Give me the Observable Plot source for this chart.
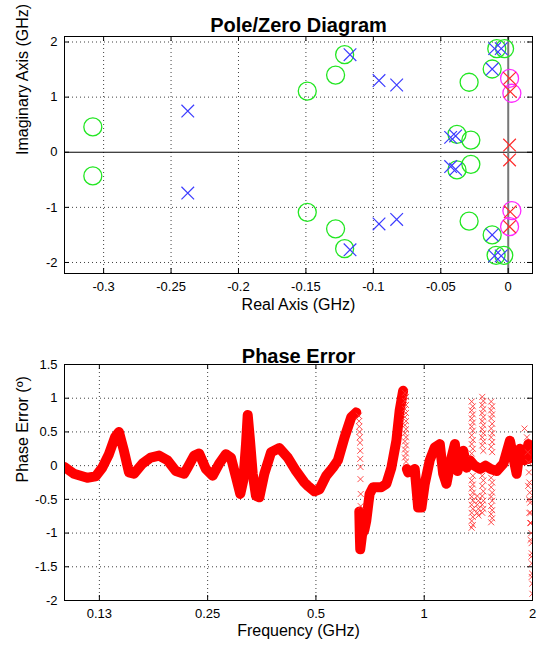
<!DOCTYPE html>
<html>
<head>
<meta charset="utf-8">
<script src="https://cdn.jsdelivr.net/npm/d3@7"></script>
<script src="https://cdn.jsdelivr.net/npm/@observablehq/plot@0.6"></script>
<style>
  html, body { margin: 0; padding: 0; background: white; }
  #root svg { display: block; }
</style>
</head>
<body>
<div id="root"></div>
<script>
// ---------- Pole/Zero diagram data (GHz) ----------
const zeroRe = [-0.308, -0.308, -0.149, -0.149, -0.128, -0.128, -0.1213, -0.1213, -0.029, -0.029,
                -0.0119, -0.0119, -0.0085, -0.0090, -0.0027, -0.0033, -0.038, -0.038, -0.0277, -0.0277];
const zeroIm = [0.46, -0.43, 1.11, -1.09, 1.40, -1.39, 1.77, -1.75, 1.27, -1.25,
                1.51, -1.50, 1.88, -1.87, 1.88, -1.87, 0.325, -0.32, 0.22, -0.22];
const poleRe = [-0.2376, -0.2376, -0.1173, -0.1173, -0.0958, -0.0958, -0.0827, -0.0827, -0.0427, -0.0427,
                -0.039, -0.039, -0.0119, -0.0119, -0.0101, -0.0101, -0.0052, -0.0052];
const poleIm = [0.747, -0.74, 1.77, -1.77, 1.30, -1.30, 1.22, -1.22, 0.27, -0.26,
                0.295, -0.31, 1.51, -1.50, 1.88, -1.88, 1.88, -1.88];
const rhpPoleRe = [0.001, 0.001, 0.001, 0.0015, 0.0015, 0.001];
const rhpPoleIm = [0.13, -0.14, 1.34, 1.10, -1.08, -1.35];
const rhpZeroRe = [0.001, 0.0027, 0.0027, 0.001];
const rhpZeroIm = [1.34, 1.07, -1.06, -1.35];
const reTicks = [-0.3, -0.25, -0.2, -0.15, -0.1, -0.05, 0];
const imTicks = [-2, -1, 0, 1, 2];

// ---------- Phase error data (frequency GHz, error deg) ----------
const peFreq = [0.100, 0.1062, 0.1157, 0.1220, 0.1274, 0.1329, 0.1381, 0.1417, 0.1463, 0.1511,
  0.1560, 0.1647, 0.1737, 0.1832, 0.1933, 0.2039, 0.2150, 0.2198, 0.2293, 0.2368,
  0.2472, 0.2581, 0.2692, 0.2810, 0.2902, 0.2997, 0.3081, 0.3141, 0.3196, 0.3231,
  0.3279, 0.3336, 0.3407, 0.3480, 0.3594, 0.3752, 0.3957, 0.4176, 0.4404, 0.4645,
  0.4748, 0.4953, 0.5115, 0.5340, 0.5574, 0.5756, 0.6005, 0.6269, 0.6474, 0.650,
  0.660, 0.662, 0.664, 0.672, 0.682, 0.690, 0.700, 0.7051, 0.7206, 0.7601,
  0.7849, 0.8104, 0.8368, 0.8547, 0.8736, 0.880,
  0.895, 0.902, 0.925, 0.9412, 0.9619, 0.9825, 1.0036, 1.036, 1.070, 1.105,
  1.129, 1.153, 1.191, 1.217, 1.238, 1.256, 1.284, 1.312, 1.340, 1.38,
  1.43, 1.48, 1.53, 1.59, 1.660, 1.731, 1.769, 1.807, 1.846, 1.906,
  1.948, 1.955];
const peErr = [-0.02, -0.12, -0.18, -0.16, -0.03, 0.17, 0.42, 0.50, 0.22, -0.10,
  -0.12, 0.03, 0.12, 0.15, 0.08, -0.08, -0.12, -0.03, 0.15, 0.18,
  -0.05, -0.15, 0.03, 0.17, 0.12, -0.17, -0.42, -0.22, 0.32, 0.75,
  0.37, -0.12, -0.45, -0.47, -0.12, 0.20, 0.26, 0.12, -0.08, -0.25,
  -0.30, -0.38, -0.35, -0.15, -0.03, 0.08, 0.42, 0.72, 0.79, null,
  -0.68, -1.0, -1.24, -1.02, -0.95, -0.82, -0.55, -0.42, -0.32, -0.32,
  -0.27, -0.03, 0.37, 0.82, 1.11, null,
  -0.05, -0.10, -0.08, -0.05, -0.62, -0.62, -0.27, 0.08, 0.27, 0.32,
  -0.12, -0.27, 0.12, 0.32, -0.08, 0.08, 0.22, -0.03, 0.08, 0.0,
  -0.05, 0.0, -0.05, -0.08, 0.03, 0.37, 0.12, -0.12, 0.25, 0.08,
  0.32, 0.10];

// scattered (noisy) samples, read as [frequency, error]
const scatterA = [[0.658, 0.74], [0.659, 0.66], [0.660, 0.58], [0.661, 0.50], [0.662, 0.42], [0.663, 0.34],
  [0.664, 0.22], [0.664, 0.10], [0.665, -0.02], [0.665, -0.20], [0.666, -0.42], [0.666, -0.60]];
const scatterB = [[0.884, 1.08], [0.890, 1.02], [0.884, 0.96], [0.890, 0.90], [0.884, 0.84], [0.890, 0.78],
  [0.884, 0.72], [0.890, 0.66], [0.884, 0.60], [0.890, 0.54], [0.884, 0.48], [0.890, 0.42],
  [0.884, 0.36], [0.890, 0.30], [0.884, 0.24], [0.890, 0.18], [0.884, 0.12], [0.890, 0.06]];
const scatterC = [
  [1.355, 0.95], [1.365, 0.88], [1.355, 0.82], [1.365, 0.76], [1.355, 0.70], [1.365, 0.64], [1.355, 0.58],
  [1.365, 0.52], [1.355, 0.45], [1.365, 0.38], [1.355, 0.32], [1.365, 0.25], [1.355, 0.18], [1.365, -0.15],
  [1.355, -0.22], [1.365, -0.28], [1.355, -0.34], [1.365, -0.40], [1.355, -0.46], [1.365, -0.52],
  [1.355, -0.58], [1.365, -0.64], [1.355, -0.70], [1.365, -0.76], [1.355, -0.82], [1.365, -0.88], [1.355, -0.92],
  [1.405, -0.45], [1.415, -0.52], [1.405, -0.58], [1.415, -0.64], [1.405, -0.70], [1.415, -0.74],
  [1.450, 1.02], [1.460, 0.96], [1.450, 0.90], [1.460, 0.84], [1.450, 0.78], [1.460, 0.72], [1.450, 0.66],
  [1.460, 0.60], [1.450, 0.54], [1.460, 0.48], [1.450, 0.42], [1.460, 0.36], [1.450, 0.30], [1.460, 0.22],
  [1.450, -0.15], [1.460, -0.22], [1.450, -0.30], [1.460, -0.38], [1.450, -0.45], [1.460, -0.52],
  [1.450, -0.58], [1.460, -0.64], [1.450, -0.70],
  [1.535, 0.95], [1.545, 0.88], [1.535, 0.82], [1.545, 0.76], [1.535, 0.70], [1.545, 0.62], [1.535, 0.55],
  [1.545, 0.48], [1.535, 0.42], [1.545, 0.35], [1.535, 0.28], [1.545, 0.20], [1.535, -0.18], [1.545, -0.25],
  [1.535, -0.32], [1.545, -0.40], [1.535, -0.46], [1.545, -0.52], [1.535, -0.60], [1.545, -0.66],
  [1.535, -0.72], [1.545, -0.78], [1.535, -0.84]];
const scatterD = [[1.90, 0.55], [1.93, 0.42], [1.94, 0.20], [1.95, 0.05], [1.955, -0.10], [1.96, -0.25],
  [1.965, -0.40], [1.97, -0.55], [1.975, -0.70], [1.98, -0.85], [1.985, -1.0], [1.988, -1.15],
  [1.99, -1.3], [1.992, -1.45], [1.994, -1.6], [1.996, -1.75], [1.998, -1.9], [1.945, -0.30],
  [1.955, -0.50], [1.96, -0.70], [1.97, -0.85], [1.975, -1.1], [1.985, -1.35], [1.99, -1.65]];

const freqTicks = [0.125, 0.25, 0.5, 1, 2];
const freqTickLabels = ["0.13", "0.25", "0.5", "1", "2"];
const errTicks = [-2, -1.5, -1, -0.5, 0, 0.5, 1, 1.5];

// ---------- layout ----------
const W = 542, ML = 64, MR = 10;
const FW = W - ML - MR;
const H1 = 322, MT1 = 36, MB1 = 49, FH1 = H1 - MT1 - MB1;
const H2 = 323, MT2 = 42, MB2 = 45, FH2 = H2 - MT2 - MB2;
const font = "'Liberation Sans', Arial, Helvetica, sans-serif";
const gridStyle = {stroke: "#000", strokeOpacity: 0.75, strokeDasharray: "1,3"};
const idx = a => a.map((_, i) => i);
const scatter = [...scatterA, ...scatterB, ...scatterC, ...scatterD];

function boxTicks(xt, yt, fh) {
  return [
    Plot.tickX(xt, {x: d => d, insetTop: fh - 5, stroke: "black"}),
    Plot.tickX(xt, {x: d => d, insetBottom: fh - 5, stroke: "black"}),
    Plot.tickY(yt, {y: d => d, insetRight: FW - 5, stroke: "black"}),
    Plot.tickY(yt, {y: d => d, insetLeft: FW - 5, stroke: "black"})
  ];
}

const chart1 = Plot.plot({
  width: W, height: H1, marginTop: MT1, marginBottom: MB1, marginLeft: ML, marginRight: MR,
  style: {fontFamily: font, fontSize: "13px", background: "white", color: "black"},
  x: {domain: [-0.329, 0.018], ticks: reTicks, tickFormat: d => String(d), tickSize: 0, tickPadding: 8, label: null},
  y: {domain: [-2.2, 2.1], ticks: imTicks, tickFormat: d => String(d), tickSize: 0, tickPadding: 7, label: null},
  marks: [
    Plot.ruleX(reTicks.filter(d => d !== 0), {x: d => d, ...gridStyle}),
    Plot.ruleY(imTicks.filter(d => d !== 0), {y: d => d, ...gridStyle}),
    Plot.ruleY([0], {y: d => d, stroke: "black", strokeWidth: 1}),
    Plot.ruleX([0], {x: d => d, stroke: "#777", strokeWidth: 2}),
    ...boxTicks(reTicks, imTicks, FH1),
    Plot.frame({stroke: "black"}),
    Plot.dot(idx(zeroRe), {x: i => zeroRe[i], y: i => zeroIm[i], symbol: "circle", r: 9, stroke: "#22e622", strokeWidth: 1.3, fill: "none"}),
    Plot.dot(idx(poleRe), {x: i => poleRe[i], y: i => poleIm[i], symbol: "times", r: 5.8, stroke: "#3c3cff", strokeWidth: 1.2}),
    Plot.dot(idx(rhpZeroRe), {x: i => rhpZeroRe[i], y: i => rhpZeroIm[i], symbol: "circle", r: 9, stroke: "#ff2aff", strokeWidth: 1.3, fill: "none"}),
    Plot.dot(idx(rhpPoleRe), {x: i => rhpPoleRe[i], y: i => rhpPoleIm[i], symbol: "times", r: 5.8, stroke: "#ff2a2a", strokeWidth: 1.2}),
    Plot.text(["Pole/Zero Diagram"], {frameAnchor: "top", dy: -19, fontSize: 20, fontWeight: "bold"}),
    Plot.text(["Real Axis (GHz)"], {frameAnchor: "bottom", dy: 36, fontSize: 16}),
    Plot.text(["Imaginary Axis (GHz)"], {frameAnchor: "left", dx: -42, rotate: -90, fontSize: 16})
  ]
});

const chart2 = Plot.plot({
  width: W, height: H2, marginTop: MT2, marginBottom: MB2, marginLeft: ML, marginRight: MR,
  style: {fontFamily: font, fontSize: "13px", background: "white", color: "black"},
  x: {type: "log", domain: [0.1, 2], ticks: freqTicks, tickFormat: d => freqTickLabels[freqTicks.indexOf(d)], tickSize: 0, tickPadding: 8, label: null},
  y: {domain: [-2, 1.5], ticks: errTicks, tickFormat: d => String(d), tickSize: 0, tickPadding: 7, label: null},
  marks: [
    Plot.ruleX(freqTicks.filter(d => d !== 2), {x: d => d, ...gridStyle}),
    Plot.ruleY(errTicks.filter(d => d !== -2 && d !== 1.5), {y: d => d, ...gridStyle}),
    ...boxTicks(freqTicks, errTicks, FH2),
    Plot.line(idx(peFreq), {x: i => peFreq[i], y: i => peErr[i], stroke: "#ff0000", strokeWidth: 10, strokeLinejoin: "round", strokeLinecap: "round", clip: true}),
    Plot.dot(scatter, {x: d => d[0], y: d => d[1], symbol: "times", r: 2.8, stroke: "#ff3030", strokeWidth: 1, strokeOpacity: 0.85, clip: true}),
    Plot.frame({stroke: "black"}),
    Plot.text(["Phase Error"], {frameAnchor: "top", dy: -16, fontSize: 20, fontWeight: "bold"}),
    Plot.text(["Frequency (GHz)"], {frameAnchor: "bottom", dy: 35, fontSize: 16}),
    Plot.text(["Phase Error (º)"], {frameAnchor: "left", dx: -42, rotate: -90, fontSize: 16})
  ]
});

const root = document.getElementById("root");
root.appendChild(chart1);
root.appendChild(chart2);
</script>
</body>
</html>
